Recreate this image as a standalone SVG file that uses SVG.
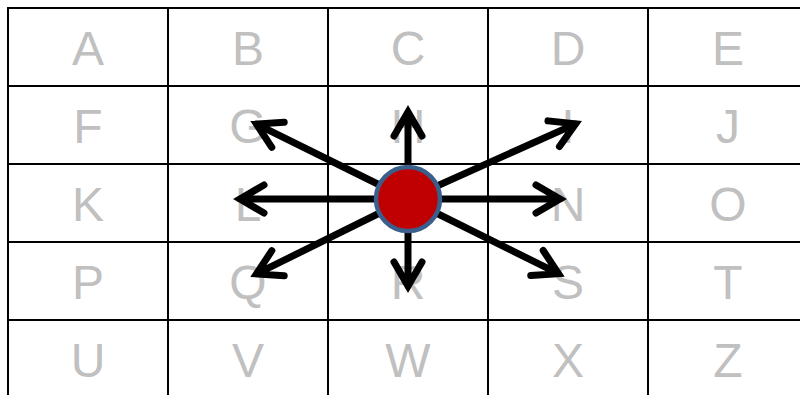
<svg xmlns="http://www.w3.org/2000/svg" width="800" height="395" viewBox="0 0 800 395">
<style>
.grid{stroke:#000;stroke-width:2;fill:none}
.lbl{font-family:"Liberation Sans",Arial,sans-serif;font-size:48px;fill:#c0c0c0;text-anchor:middle}
.arr{stroke:#000;stroke-width:7;fill:none;stroke-linecap:round;stroke-linejoin:miter}
</style>
<rect width="800" height="395" fill="#fff"/>
<g id="grid">
<rect class="grid" x="8" y="8" width="810" height="400" stroke-width="2.5"/>
<path class="grid" d="M168,8V400M328,8V400M488,8V400M648,8V400M8,86H810M8,164H810M8,242H810M8,320H810"/>
</g>
<g id="labels">
<text class="lbl" x="88" y="65">A</text><text class="lbl" x="248" y="65">B</text><text class="lbl" x="408" y="65">C</text><text class="lbl" x="568" y="65">D</text><text class="lbl" x="728" y="65">E</text>
<text class="lbl" x="88" y="143">F</text><text class="lbl" x="248" y="143">G</text><text class="lbl" x="408" y="143">H</text><text class="lbl" x="568" y="143">I</text><text class="lbl" x="728" y="143">J</text>
<text class="lbl" x="88" y="221">K</text><text class="lbl" x="248" y="221">L</text><text class="lbl" x="568" y="221">N</text><text class="lbl" x="728" y="221">O</text>
<text class="lbl" x="88" y="299">P</text><text class="lbl" x="248" y="299">Q</text><text class="lbl" x="408" y="299">R</text><text class="lbl" x="568" y="299">S</text><text class="lbl" x="728" y="299">T</text>
<text class="lbl" x="88" y="377">U</text><text class="lbl" x="248" y="377">V</text><text class="lbl" x="408" y="377">W</text><text class="lbl" x="568" y="377">X</text><text class="lbl" x="728" y="377">Z</text>
</g>
<g id="connectors">
<g transform="translate(408,199) rotate(0)"><path class="arr" d="M0,0H152M128,-14L152,0L128,14"/></g>
<g transform="translate(408,199) rotate(180)"><path class="arr" d="M0,0H168M144,-14L168,0L144,14"/></g>
<g transform="translate(408,199) rotate(-90)"><path class="arr" d="M0,0H87M63,-14L87,0L63,14"/></g>
<g transform="translate(408,199) rotate(90)"><path class="arr" d="M0,0H87M63,-14L87,0L63,14"/></g>
<g transform="translate(408,199) rotate(-153.7)"><path class="arr" d="M0,0H169M145,-14L169,0L145,14"/></g>
<g transform="translate(408,199) rotate(-24.15)"><path class="arr" d="M0,0H183.7M159.7,-14L183.7,0L159.7,14"/></g>
<g transform="translate(408,199) rotate(153.7)"><path class="arr" d="M0,0H169M145,-14L169,0L145,14"/></g>
<g transform="translate(408,199) rotate(26.4)"><path class="arr" d="M0,0H168M144,-14L168,0L144,14"/></g>
</g>
<g id="center">
<circle cx="408" cy="199" r="32" fill="#c00000" stroke="#3a5f8c" stroke-width="4.5"/>
</g>
</svg>
